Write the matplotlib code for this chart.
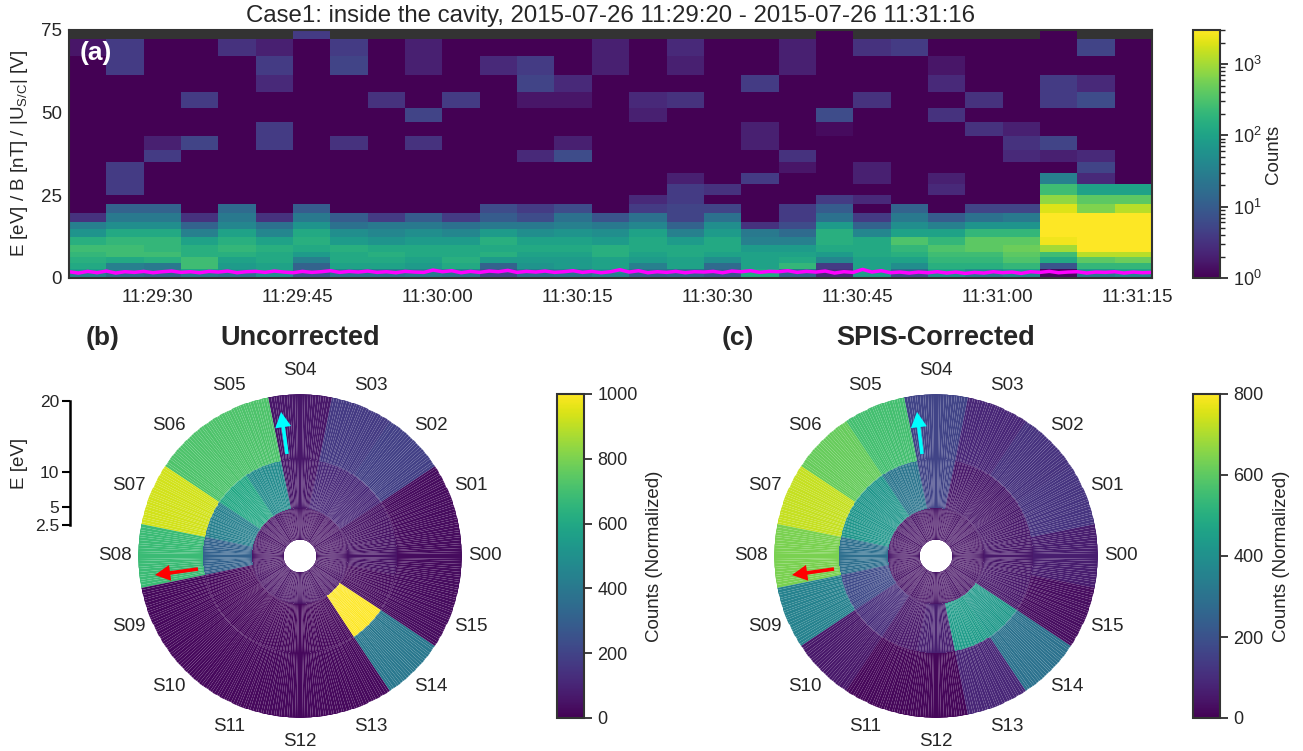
#!/usr/bin/env python3
import matplotlib
matplotlib.use('Agg')
import matplotlib.pyplot as plt
import matplotlib.dates as mdates
from matplotlib.colors import LogNorm, Normalize
import numpy as np
import datetime as dt

plt.rcParams['font.family'] = ['Liberation Sans', 'DejaVu Sans']
plt.rcParams['mathtext.default'] = 'regular'
plt.rcParams['text.color'] = '.15'
plt.rcParams['axes.labelcolor'] = '.15'
plt.rcParams['xtick.color'] = '.15'
plt.rcParams['ytick.color'] = '.15'

W, H = 1303, 751

# energy bin edges of the spectrogram, E/B/|U|
y_edges = [0, 1.5, 2.8, 4.4, 6.2, 8, 10.1, 12.3, 14.7, 16.8, 19.6, 22.3, 25, 28.4,
           31.7, 35, 38.7, 43, 47.2, 51.5, 56.4, 61.5, 67, 72.4, 75]

# log10(counts) x 10, lowest energy bin first, 29 time bins
log_counts = [
    [15, 12, 11, 14, 13, 17, 9, 13, 13, 14, 13, 7, 12, 13, 15, 10, 11, 9, 21, 11, 4, 19, 8, 17, 14, 16, 1, 14, 16],
    [19, 15, 14, 20, 18, 20, 11, 15, 14, 15, 15, 9, 14, 15, 18, 13, 13, 11, 21, 13, 5, 20, 12, 20, 17, 19, 1, 18, 20],
    [21, 15, 14, 24, 19, 20, 11, 20, 20, 19, 21, 11, 18, 19, 20, 15, 20, 12, 20, 23, 6, 20, 17, 22, 22, 23, 9, 23, 23],
    [22, 21, 22, 24, 20, 21, 15, 21, 21, 20, 22, 19, 19, 19, 20, 19, 20, 17, 20, 21, 16, 20, 20, 23, 23, 25, 21, 26, 27],
    [23, 24, 24, 22, 22, 21, 19, 21, 22, 21, 21, 22, 20, 20, 22, 20, 21, 20, 20, 20, 19, 21, 22, 24, 24, 26, 24, 31, 31],
    [24, 24, 23, 22, 23, 22, 21, 22, 21, 21, 21, 21, 21, 21, 22, 21, 21, 21, 19, 19, 21, 21, 23, 25, 26, 27, 30, 35, 35],
    [22, 23, 23, 20, 22, 20, 22, 19, 18, 19, 19, 22, 20, 20, 19, 21, 19, 21, 15, 15, 22, 21, 25, 23, 26, 26, 34, 35, 35],
    [18, 21, 21, 15, 20, 16, 21, 17, 16, 17, 16, 19, 17, 18, 17, 20, 15, 19, 14, 12, 22, 16, 20, 20, 23, 23, 35, 35, 35],
    [15, 17, 17, 11, 16, 13, 18, 13, 14, 14, 13, 14, 14, 15, 14, 16, 11, 17, 5, 8, 19, 11, 17, 15, 18, 18, 35, 35, 35],
    [5, 14, 14, 5, 14, 5, 14, 10, 6, 10, 6, 10, 8, 13, 9, 13, 7, 13, 0, 6, 13, 6, 14, 10, 13, 14, 35, 35, 35],
    [0, 11, 11, 0, 12, 0, 10, 0, 0, 0, 0, 8, 6, 8, 0, 6, 7, 7, 0, 6, 10, 0, 11, 0, 7, 7, 33, 28, 31],
    [0, 0, 0, 0, 0, 0, 0, 0, 0, 0, 0, 0, 0, 0, 0, 4, 6, 0, 0, 0, 6, 4, 0, 0, 0, 0, 29, 26, 26],
    [0, 6, 0, 0, 0, 0, 0, 0, 0, 0, 0, 0, 0, 0, 0, 0, 6, 5, 0, 0, 0, 0, 0, 4, 0, 0, 24, 20, 20],
    [0, 6, 0, 0, 0, 0, 0, 0, 0, 0, 0, 0, 0, 0, 0, 0, 3, 0, 6, 0, 0, 3, 0, 3, 0, 0, 15, 4, 0],
    [0, 6, 0, 0, 0, 0, 0, 0, 0, 0, 0, 0, 0, 0, 0, 0, 0, 0, 0, 2, 0, 3, 0, 0, 0, 0, 0, 7, 0],
    [0, 0, 6, 0, 0, 0, 0, 0, 0, 0, 0, 0, 4, 8, 0, 0, 0, 0, 0, 5, 0, 0, 0, 0, 0, 4, 3, 4, 0],
    [0, 0, 3, 7, 0, 6, 0, 5, 0, 5, 0, 0, 0, 3, 0, 0, 0, 0, 3, 0, 0, 0, 0, 0, 0, 5, 7, 0, 0],
    [0, 0, 0, 0, 0, 6, 0, 0, 0, 0, 0, 0, 0, 0, 0, 0, 0, 0, 3, 0, 1, 0, 0, 0, 5, 3, 0, 0, 0],
    [0, 0, 0, 0, 0, 0, 0, 0, 0, 7, 0, 0, 0, 0, 0, 3, 0, 0, 0, 0, 8, 0, 0, 5, 0, 0, 0, 0, 0],
    [0, 0, 0, 6, 0, 0, 0, 0, 5, 0, 6, 0, 2, 2, 0, 4, 5, 0, 0, 0, 0, 5, 0, 0, 5, 0, 6, 8, 0],
    [0, 0, 0, 0, 0, 4, 0, 0, 0, 0, 0, 0, 7, 4, 0, 0, 0, 0, 6, 0, 0, 0, 0, 4, 0, 0, 6, 4, 0],
    [0, 6, 0, 0, 0, 6, 0, 7, 0, 3, 0, 4, 6, 0, 3, 0, 3, 0, 0, 3, 0, 0, 0, 2, 0, 0, 0, 0, 0],
    [2, 6, 0, 0, 5, 3, 0, 6, 0, 3, 0, 0, 0, 0, 3, 0, 4, 0, 0, 3, 0, 5, 6, 0, 0, 0, 0, 7, 0],
    [-1, -1, -1, -1, -1, -1, 6, -1, -1, -1, -1, -1, -1, -1, -1, -1, -1, -1, -1, -1, 0, -1, -1, -1, -1, -1, 0, -1, -1],
]

# spacecraft potential line, one value per second
pot_line = [1.9, 1.5, 2.0, 1.6, 2.1, 1.5, 1.9, 1.7, 2.0, 1.6, 1.9, 2.1, 1.7, 1.9, 1.6, 2.0, 1.8, 2.1, 1.6, 1.9,
            2.0, 1.7, 2.1, 1.8, 1.6, 2.0, 1.7, 1.9, 2.2, 1.7, 2.0, 1.8, 2.1, 1.7, 1.9, 1.6, 2.0, 1.8, 1.7, 2.4,
            1.9, 2.2, 1.6, 2.0, 1.7, 2.1, 1.9, 2.3, 1.7, 2.0, 1.8, 2.1, 1.7, 1.9, 2.2, 1.7, 2.0, 1.6, 1.9, 2.5,
            1.8, 2.2, 1.6, 1.9, 1.7, 2.0, 1.6, 1.9, 1.8, 2.0, 1.6, 2.1, 1.9, 2.2, 1.7, 2.0, 1.9, 2.2, 1.7, 2.0,
            1.8, 2.1, 1.5, 1.9, 1.7, 2.6, 1.8, 2.2, 1.6, 1.8, 1.5, 1.8, 1.6, 1.9, 1.5, 1.8, 1.4, 1.7, 1.5, 1.9,
            1.6, 1.8, 1.4, 1.9, 1.7, 2.0, 1.6, 1.8, 1.9, 1.5, 1.8, 1.7, 1.9, 1.5, 1.8, 1.6, 1.7]

sector_names = ['S%02d' % i for i in range(16)]
# E rings of the polar panels (eV)
ring_edges = [0.4, 4.9, 11.8, 20.95]

# normalized counts per sector S00..S15, inner to outer ring
uncorr_inner = [45, 45, 45, 45, 45, 45, 45, 45, 45, 45, 45, 45, 45, 45, 45, 45]
uncorr_mid = [50, 50, 110, 110, 60, 480, 600, 430, 310, 20, 20, 20, 20, 20, 1000, 30]
uncorr_outer = [30, 30, 190, 170, 60, 720, 720, 930, 680, 20, 20, 20, 20, 20, 400, 30]

corr_inner = [40, 40, 40, 40, 40, 40, 40, 40, 40, 40, 40, 40, 40, 40, 40, 40]
corr_mid = [50, 50, 50, 50, 160, 310, 420, 420, 290, 180, 100, 50, 70, 440, 430, 50]
corr_outer = [65, 120, 115, 85, 160, 560, 615, 730, 640, 350, 50, 15, 15, 85, 300, 25]

e_ticks = [2.5, 5, 10, 20]
time_ticks = ['11:29:30', '11:29:45', '11:30:00', '11:30:15', '11:30:30', '11:30:45', '11:31:00', '11:31:15']


def add_ax(left, top, right, bottom, **kw):
    return fig.add_axes([left / W, 1 - bottom / H, (right - left) / W, (bottom - top) / H], **kw)


def style_cbar(cb, label, pad):
    cb.outline.set_edgecolor('.2')
    cb.outline.set_linewidth(1.5)
    cb.ax.tick_params(which='major', length=6, width=1.25, labelsize=13, color='.15')
    cb.ax.tick_params(which='minor', length=3.5, width=1, color='.15')
    cb.set_label(label, fontsize=13.5, labelpad=pad)


def polar_panel(cx, cy, inner, mid, outer, vmax):
    ax = add_ax(cx - 162, cy - 162, cx + 162, cy + 162, projection='polar')
    n_sub = 24
    theta = np.deg2rad(np.linspace(-11.25, 348.75, 16 * n_sub + 1))
    table = np.array([inner, mid, outer], dtype=float)
    C = np.repeat(table, n_sub, axis=1)
    mesh = ax.pcolormesh(theta, ring_edges, C, cmap='viridis', norm=Normalize(0, vmax), shading='flat',
                         antialiased=True, linewidth=0)
    ax.set_rorigin(-1.857)
    ax.set_ylim(ring_edges[0], ring_edges[3])
    ax.set_axis_off()
    for i, name in enumerate(sector_names):
        ax.text(np.deg2rad(22.5 * i), 24.2, name, ha='center', va='center', fontsize=13.5, clip_on=False)
    return mesh


def arrow(x0, y0, x1, y1, color):
    fig.add_artist(matplotlib.text.Annotation(
        '', xy=(x1 / W, 1 - y1 / H), xytext=(x0 / W, 1 - y0 / H),
        xycoords='figure fraction', textcoords='figure fraction',
        arrowprops=dict(width=2.6, headwidth=11.5, headlength=11, shrink=0, color=color, linewidth=0)))


fig = plt.figure(figsize=(W / 100, H / 100), dpi=100)

# (a) spectrogram
ax = add_ax(69, 30, 1152, 278)
ax.set_facecolor('#333333')
t0 = dt.datetime(2015, 7, 26, 11, 29, 20, 570000)
t_edges = [t0 + dt.timedelta(seconds=4 * i) for i in range(30)]
Z = np.array(log_counts, dtype=float)
Z = np.ma.masked_less(Z, 0)
pm = ax.pcolormesh(t_edges, y_edges, 10 ** (Z / 10.0), cmap='viridis', norm=LogNorm(1, 3000), shading='flat')
t_line = [t0 + dt.timedelta(seconds=i) for i in range(len(pot_line))]
ax.plot(t_line, pot_line, color='magenta', lw=2.5)
ax.set_ylim(0, 75)
ax.set_xlim(t_edges[0], t_edges[-1])
ax.set_yticks([0, 25, 50, 75])
ax.set_xticks([dt.datetime(2015, 7, 26, *map(int, s.split(':'))) for s in time_ticks])
ax.xaxis.set_major_formatter(mdates.DateFormatter('%H:%M:%S'))
ax.tick_params(length=0, labelsize=13.5, pad=8)
ax.tick_params(axis='y', pad=5)
for s in ax.spines.values():
    s.set_color('.2')
    s.set_linewidth(1.5)
ax.set_ylabel(r'E [eV] / B [nT] / |U$_{S/C}$| [V]', fontsize=13.5, labelpad=8)
ax.set_title('Case1: inside the cavity, 2015-07-26 11:29:20 - 2015-07-26 11:31:16', fontsize=17.3, pad=6)
fig.text(80 / W, 1 - 53 / H, '(a)', color='white', fontsize=19, fontweight='bold', va='center')

cax = add_ax(1193, 30, 1220, 278)
style_cbar(fig.colorbar(pm, cax=cax), 'Counts', 2)

# (b), (c) polar panels
m1 = polar_panel(300, 556, uncorr_inner, uncorr_mid, uncorr_outer, 1000)
m2 = polar_panel(936, 556, corr_inner, corr_mid, corr_outer, 800)

cax = add_ax(557, 394, 584, 718)
cb = fig.colorbar(m1, cax=cax, ticks=[0, 200, 400, 600, 800, 1000])
style_cbar(cb, 'Counts (Normalized)', 6)
cax = add_ax(1193, 394, 1220, 718)
cb = fig.colorbar(m2, cax=cax, ticks=[0, 200, 400, 600, 800])
style_cbar(cb, 'Counts (Normalized)', 7)

arrow(287, 454, 281, 412, 'cyan')
arrow(198, 569, 155, 575, 'red')
arrow(922, 454, 917, 412, 'cyan')
arrow(834, 569, 792, 575, 'red')

fig.text(103 / W, 1 - 338 / H, '(b)', fontsize=19, fontweight='bold', ha='center', va='center')
fig.text(300 / W, 1 - 337.5 / H, 'Uncorrected', fontsize=19.5, fontweight='bold', ha='center', va='center')
fig.text(738 / W, 1 - 338 / H, '(c)', fontsize=19, fontweight='bold', ha='center', va='center')
fig.text(936 / W, 1 - 337.5 / H, 'SPIS-Corrected', fontsize=19.5, fontweight='bold', ha='center', va='center')

# energy scale bar
sax = add_ax(70, 401, 90, 525)
sax.patch.set_visible(False)
sax.set_ylim(2.5, 20)
sax.set_xticks([])
sax.set_yticks(e_ticks)
sax.set_yticklabels(['2.5', '5', '10', '20'])
sax.tick_params(axis='y', length=6, width=1.5, color='black', labelsize=12.5, pad=2)
for k in ['top', 'right', 'bottom']:
    sax.spines[k].set_visible(False)
sax.spines['left'].set_color('black')
sax.spines['left'].set_linewidth(1.8)
fig.text(19 / W, 1 - 463 / H, 'E [eV]', fontsize=13.5, rotation=90, ha='center', va='center')

plt.savefig('out.png', dpi=100)
